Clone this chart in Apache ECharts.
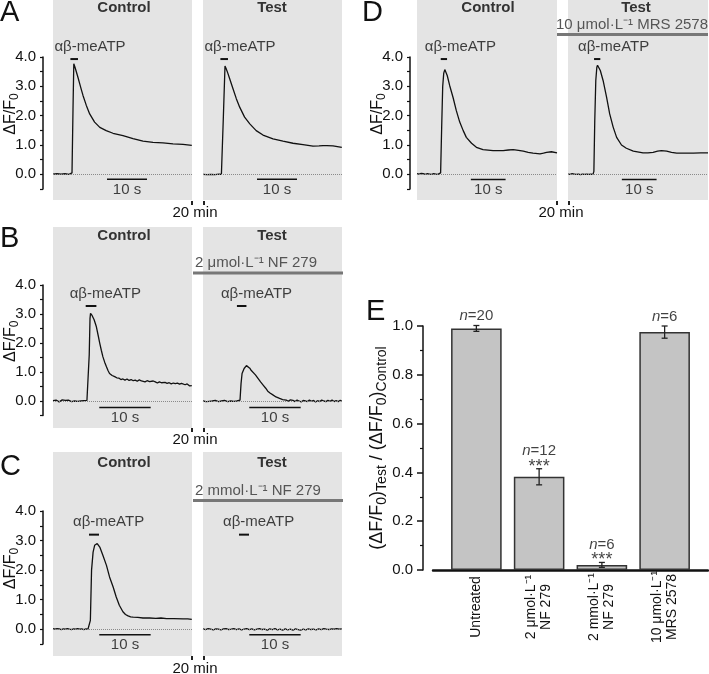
<!DOCTYPE html>
<html>
<head>
<meta charset="utf-8">
<script src="https://cdn.jsdelivr.net/npm/echarts@6/dist/echarts.min.js"></script>
<style>
html, body { margin: 0; padding: 0; background: #fff; }
#chart { width: 709px; height: 674px; }
</style>
</head>
<body>
<div id="chart"></div>
<script>
// ---- traces: [time (s), ΔF/F0] ----
const traceACtrl = [[0,0.01],[0.5,0.0],[1,0.02],[1.5,0.0],[2,0.01],[2.5,-0.01],[3,0.02],[3.5,0.01],[4,0.0],[4.5,0.02],[4.75,0.05],[5.0,2.2],[5.2,3.77],[5.5,3.65],[5.85,3.49],[6.25,3.3],[6.67,3.09],[7.1,2.88],[7.5,2.69],[8.33,2.35],[9.17,2.06],[10.4,1.78],[11.7,1.6],[13.3,1.49],[15,1.4],[17.5,1.32],[20,1.22],[22.5,1.13],[25,1.09],[27.5,1.07],[30,1.04],[32.5,1.02],[34.7,0.99]];
const traceATest = [[0,0.0],[0.5,0.01],[1,-0.01],[1.5,0.01],[2,0.0],[2.5,0.01],[3,-0.01],[3.5,0.0],[4,0.01],[4.6,0.0],[4.8,0.05],[5.1,2.0],[5.5,3.69],[5.8,3.6],[6.2,3.45],[6.67,3.26],[7.5,2.92],[8.33,2.58],[9.17,2.29],[10.4,1.95],[11.7,1.72],[13.3,1.49],[15,1.34],[17.5,1.21],[20,1.13],[22.5,1.06],[25,1.01],[27.5,0.96],[29,0.97],[30,0.98],[31,0.98],[32.5,0.97],[34.7,0.92]];
const traceBCtrl = [[0,0.01],[0.3,-0.02],[0.6,0.03],[0.9,0.0],[1.2,-0.03],[1.5,0.02],[1.8,0.04],[2.1,-0.01],[2.4,0.02],[2.7,-0.02],[3.0,0.03],[3.3,0.01],[3.6,-0.02],[3.9,0.04],[4.2,0.0],[4.5,0.02],[4.8,-0.01],[5.1,0.03],[5.4,0.0],[5.7,0.05],[6.0,0.01],[6.3,0.03],[6.6,0.02],[6.9,0.04],[7.05,1.6],[7.2,2.85],[7.3,3.02],[7.6,2.95],[8.0,2.8],[8.44,2.56],[8.8,2.25],[9.1,1.99],[9.4,1.75],[9.7,1.53],[10.05,1.34],[10.4,1.18],[10.7,1.05],[11.0,0.95],[11.5,0.88],[12.0,0.84],[12.4,0.8],[12.8,0.79],[13.2,0.74],[13.6,0.76],[14.0,0.72],[14.4,0.76],[14.8,0.71],[15.2,0.74],[15.6,0.7],[16.0,0.72],[16.4,0.68],[16.8,0.73],[17.2,0.69],[17.5,0.71],[17.9,0.66],[18.3,0.7],[18.8,0.67],[19.1,0.65],[19.5,0.69],[19.9,0.66],[20.3,0.62],[20.7,0.66],[21.1,0.63],[21.4,0.6],[21.8,0.64],[22.2,0.61],[22.6,0.63],[23.0,0.59],[23.4,0.62],[23.8,0.6],[24.2,0.62],[24.6,0.58],[25.0,0.61],[25.3,0.59],[25.7,0.56],[26.1,0.59],[26.6,0.52],[27.0,0.53]];
const traceBTest = [[0,0.0],[0.3,0.03],[0.6,-0.02],[0.9,0.02],[1.2,-0.01],[1.5,0.03],[1.8,0.0],[2.1,-0.03],[2.4,0.02],[2.7,0.01],[3.0,-0.02],[3.3,0.03],[3.6,0.0],[3.9,-0.02],[4.2,0.02],[4.5,0.01],[4.8,-0.02],[5.1,0.03],[5.4,0.0],[5.7,0.02],[6.0,-0.01],[6.3,0.02],[6.6,0.0],[6.9,0.02],[7.2,0.03],[7.4,0.6],[7.6,0.95],[8.0,1.12],[8.2,1.18],[8.45,1.22],[8.7,1.17],[9.1,1.13],[9.4,1.05],[9.7,1.01],[10.2,0.9],[10.7,0.78],[11.2,0.66],[11.7,0.55],[12.2,0.44],[12.6,0.34],[13.1,0.27],[13.6,0.21],[14.2,0.14],[14.9,0.09],[15.5,0.05],[16.2,0.03],[16.6,-0.01],[17.0,0.04],[17.5,0.02],[17.9,-0.02],[18.3,0.03],[18.7,0.0],[19.1,-0.03],[19.5,0.02],[19.9,0.0],[20.3,-0.02],[20.7,0.03],[21.1,-0.01],[21.5,0.02],[21.9,-0.03],[22.3,0.01],[22.7,-0.02],[23.1,0.03],[23.5,0.0],[23.9,-0.02],[24.3,0.02],[24.7,-0.01],[25.1,0.03],[25.5,-0.02],[25.9,0.01],[26.3,-0.02],[26.7,0.02],[27.0,0.0]];
const traceCCtrl = [[0,0.02],[0.4,0.0],[0.8,0.02],[1.2,0.01],[1.6,-0.01],[2.0,0.01],[2.4,0.0],[2.8,0.02],[3.2,0.0],[3.6,-0.01],[4.0,0.01],[4.4,0.0],[4.8,0.02],[5.2,0.0],[5.6,0.01],[6.0,-0.01],[6.4,0.01],[6.8,0.0],[7.1,0.02],[7.27,0.3],[7.5,2.0],[7.8,2.61],[8.1,2.84],[8.6,2.9],[9.1,2.78],[9.7,2.5],[10.4,2.16],[11.0,1.77],[11.7,1.43],[12.3,1.09],[12.9,0.81],[13.6,0.59],[14.1,0.5],[14.6,0.45],[15.1,0.42],[15.6,0.41],[16.5,0.4],[17.5,0.38],[18.8,0.38],[20.0,0.37],[21.0,0.38],[22.1,0.36],[23.5,0.36],[25.3,0.35],[26.2,0.35],[27.0,0.33]];
const traceCTest = [[0,0.01],[0.5,-0.01],[1,0.02],[1.5,0.0],[2,-0.02],[2.5,0.01],[3,0.0],[3.5,-0.02],[4,0.01],[4.5,0.02],[5,-0.01],[5.5,0.0],[6,0.02],[6.5,-0.01],[7,0.01],[7.5,-0.02],[8,0.0],[8.5,0.02],[9,-0.01],[9.5,0.01],[10,-0.02],[10.5,0.0],[11,0.02],[11.5,-0.01],[12,0.0],[12.5,-0.03],[13,0.01],[13.5,-0.01],[14,0.02],[14.5,-0.02],[15,0.0],[15.5,-0.03],[16,0.01],[16.5,-0.02],[17,0.0],[17.5,-0.03],[18,0.01],[18.5,-0.01],[19,-0.03],[19.5,0.0],[20,-0.02],[20.5,0.01],[21,-0.01],[21.5,0.0],[22,-0.02],[22.5,0.01],[23,-0.01],[23.5,0.02],[24,0.0],[24.5,-0.01],[25,0.01],[25.5,0.0],[26,0.02],[26.5,0.0],[27,0.01]];
const traceDCtrl = [[0,0.02],[0.6,0.01],[1.2,0.03],[1.8,0.02],[2.4,0.0],[3.0,0.02],[3.6,0.01],[4.2,0.0],[4.8,0.02],[5.4,0.01],[6.0,0.0],[6.5,0.02],[6.8,0.05],[7.1,1.6],[7.4,3.0],[7.7,3.45],[8.0,3.57],[8.3,3.52],[8.7,3.37],[9.4,3.03],[10.4,2.61],[11.3,2.18],[12.3,1.78],[13.3,1.49],[14.2,1.26],[15.7,1.06],[17.1,0.92],[19.0,0.84],[21.9,0.81],[24.8,0.81],[26.3,0.83],[27.7,0.84],[29.2,0.82],[30.6,0.79],[32.0,0.75],[33.4,0.72],[35.4,0.7],[36.4,0.72],[37.3,0.75],[38.7,0.77],[40.3,0.73]];
const traceDTest = [[0,0.01],[0.6,0.0],[1.2,0.02],[1.8,0.01],[2.4,0.0],[3.0,0.01],[3.6,-0.01],[4.2,0.01],[4.8,0.0],[5.4,0.01],[6.0,0.0],[6.6,0.01],[7.2,0.0],[7.45,0.1],[7.7,1.8],[8.0,3.2],[8.3,3.65],[8.5,3.72],[8.8,3.68],[9.3,3.54],[10.1,3.2],[11.1,2.63],[12.0,2.06],[13.0,1.61],[14.0,1.26],[15.4,1.0],[16.8,0.89],[18.8,0.79],[21.6,0.73],[23.0,0.73],[24.5,0.75],[25.8,0.79],[26.9,0.81],[28.4,0.79],[29.8,0.75],[31.3,0.72],[33.7,0.72],[36.1,0.72],[38.2,0.73],[40.3,0.73]];

// αβ-meATP application windows (s) and 10 s scale bars (s)
const stimACtrl = [4.35, 6.25], stimATest = [4.35, 6.25];
const stimBCtrl = [6.36, 8.44], stimBTest = [6.6, 8.45];
const stimCCtrl = [7.0, 8.95], stimCTest = [7.0, 8.95];
const stimDCtrl = [6.83, 8.65], stimDTest = [7.5, 9.3];
const scaleA = [13.5, 23.5], scaleB = [9, 19], scaleC = [9, 19], scaleD = [15.5, 25.5];
const yTicks = [0, 1, 2, 3, 4];

// ---- panel E ----
const groups = ['Untreated', '2 μmol·L⁻¹\nNF 279', '2 mmol·L⁻¹\nNF 279', '10 μmol·L⁻¹\nMRS 2578'];
const ratioMean = [0.99, 0.382, 0.021, 0.975];
const ratioSem = [0.012, 0.033, 0.01, 0.025];
const nCells = [20, 12, 6, 6];
const signif = ['', '***', '***', ''];

const FONT = 'Liberation Sans, Arial, sans-serif';
const INK = '#111';

const panels = [
  { x: [53, 203], w: 139, bgTop: 0, bgH: 200, top: 57, h: 132, xMax: 34.75, off: 10,
    traces: [traceACtrl, traceATest], stim: [stimACtrl, stimATest], stimY: 3.93, scale: scaleA, scaleY: -0.17 },
  { x: [53, 203], w: 139, bgTop: 227, bgH: 201, top: 285, h: 130.5, xMax: 27.04, off: 10,
    traces: [traceBCtrl, traceBTest], stim: [stimBCtrl, stimBTest], stimY: 3.28, scale: scaleB, scaleY: -0.22 },
  { x: [53, 203], w: 139, bgTop: 452, bgH: 204, top: 511, h: 133, xMax: 27.04, off: 10,
    traces: [traceCCtrl, traceCTest], stim: [stimCCtrl, stimCTest], stimY: 3.2, scale: scaleC, scaleY: -0.19 },
  { x: [417, 568], w: 140, bgTop: 0, bgH: 200, top: 57, h: 132, xMax: 40.3, off: 7,
    traces: [traceDCtrl, traceDTest], stim: [stimDCtrl, stimDTest], stimY: 3.93, scale: scaleD, scaleY: -0.18 }
];

const grids = [], xAxes = [], yAxes = [], series = [];
function addGrid(g, xa, ya) {
  const gi = grids.length;
  grids.push(Object.assign({ containLabel: false, outerBoundsMode: 'none' }, g));
  xAxes.push(Object.assign({ gridIndex: gi }, xa));
  yAxes.push(Object.assign({ gridIndex: gi }, ya));
  return gi;
}
const hidden = (min, max) => ({ type: 'value', show: false, min, max });
const subRich = size => ({ s: { fontSize: size, verticalAlign: 'bottom', fontFamily: FONT, color: INK } });

panels.forEach(p => {
  [0, 1].forEach(side => {
    const left = p.x[side];
    // grey background
    addGrid({ left, top: p.bgTop, width: p.w, height: p.bgH, show: true, backgroundColor: '#e4e4e4', borderWidth: 0 },
      hidden(0, 1), hidden(0, 1));
    // data area
    const yAxis = side === 0 ? {
      type: 'value', min: -0.5, max: 4, interval: 0.5, offset: p.off,
      axisLine: { show: true, onZero: false, lineStyle: { color: INK, width: 1.5 } },
      axisTick: { show: true, length: 3, lineStyle: { color: INK, width: 1.2 } },
      axisLabel: { fontSize: 15, color: INK, margin: 7, fontFamily: FONT,
        formatter: v => (yTicks.includes(v) ? v.toFixed(1) : '') },
      splitLine: { show: false },
      name: 'ΔF/F{s|0}', nameLocation: 'middle', nameGap: 22, nameMoveOverlap: false,
      nameTextStyle: { fontSize: 16, color: INK, lineHeight: 20, fontFamily: FONT, padding: [0, 0, 0, 18], rich: subRich(12) }
    } : hidden(-0.5, 4);
    const gi = addGrid({ left, top: p.top, width: p.w, height: p.h }, hidden(0, p.xMax), yAxis);
    const st = p.stim[side];
    series.push({
      type: 'line', xAxisIndex: gi, yAxisIndex: gi, data: p.traces[side], symbol: 'none',
      lineStyle: { color: INK, width: 1.3 }, z: 4, clip: false,
      markLine: { silent: true, symbol: 'none', label: { show: false }, animation: false,
        lineStyle: { color: '#8a8a8a', type: 'dotted', width: 1 }, data: [{ yAxis: 0 }] }
    });
    series.push({ type: 'line', xAxisIndex: gi, yAxisIndex: gi, symbol: 'none', clip: false,
      data: [[st[0], p.stimY], [st[1], p.stimY]], lineStyle: { color: INK, width: 2 } });
    series.push({ type: 'line', xAxisIndex: gi, yAxisIndex: gi, symbol: 'none', clip: false,
      data: [[p.scale[0], p.scaleY], [p.scale[1], p.scaleY]], lineStyle: { color: INK, width: 1.5 } });
    series.push({ type: 'scatter', xAxisIndex: gi, yAxisIndex: gi, symbolSize: 0, clip: false, silent: true,
      data: [
        { value: [st[0], p.stimY], label: { show: true, position: 'top', distance: 5, align: 'left', offset: [-16, 0],
            formatter: 'αβ-meATP', fontSize: 15, color: INK, fontFamily: FONT } },
        { value: [(p.scale[0] + p.scale[1]) / 2, p.scaleY], label: { show: true, position: 'bottom', distance: 3,
            formatter: '10 s', fontSize: 15, color: INK, fontFamily: FONT } }
      ] });
  });
});

// panel E: thick baseline spanning past the bars
addGrid({ left: 433, top: 326, width: 275, height: 244 },
  { type: 'value', min: 0, max: 1, axisLine: { show: true, lineStyle: { color: INK, width: 2.5 } },
    axisTick: { show: false }, axisLabel: { show: false }, splitLine: { show: false } },
  hidden(0, 1));
const eg = addGrid({ left: 445, top: 326, width: 251, height: 244 },
  { type: 'category', data: groups, axisLine: { show: false }, axisTick: { show: false },
    axisLabel: { interval: 0, rotate: 90, align: 'center', verticalAlign: 'middle', margin: 37,
      fontSize: 14, lineHeight: 15, color: INK, fontFamily: FONT } },
  { type: 'value', min: 0, max: 1, interval: 0.2, offset: 22,
    axisLine: { show: true, onZero: false, lineStyle: { color: INK, width: 1.5 } },
    axisTick: { show: true, length: 6, lineStyle: { color: INK, width: 1.5 } },
    minorTick: { show: true, splitNumber: 2, length: 3, lineStyle: { color: INK, width: 1.2 } },
    splitLine: { show: false },
    axisLabel: { fontSize: 15, color: INK, margin: 10, fontFamily: FONT, formatter: v => v.toFixed(1) },
    name: '(ΔF/F{s|0}){s|Test} / (ΔF/F{s|0}){s|Control}', nameLocation: 'middle', nameGap: 34, nameMoveOverlap: false,
    nameTextStyle: { fontSize: 18, color: INK, lineHeight: 24, fontFamily: FONT, rich: subRich(14) } });

series.push({ type: 'bar', xAxisIndex: eg, yAxisIndex: eg, data: ratioMean, barWidth: 50.6,
  itemStyle: { color: '#c4c4c4', borderColor: '#333', borderWidth: 1.5 } });
series.push({ type: 'custom', xAxisIndex: eg, yAxisIndex: eg, z: 5,
  data: ratioMean.map((m, i) => [i, m - ratioSem[i], m + ratioSem[i]]),
  renderItem: (params, api) => {
    const lo = api.coord([api.value(0), api.value(1)]);
    const hi = api.coord([api.value(0), api.value(2)]);
    const st = { stroke: '#222', lineWidth: 1.3 };
    return { type: 'group', children: [
      { type: 'line', shape: { x1: lo[0], y1: lo[1], x2: hi[0], y2: hi[1] }, style: st },
      { type: 'line', shape: { x1: lo[0] - 3, y1: lo[1], x2: lo[0] + 3, y2: lo[1] }, style: st },
      { type: 'line', shape: { x1: hi[0] - 3, y1: hi[1], x2: hi[0] + 3, y2: hi[1] }, style: st }
    ] };
  } });
const nRich = {
  i: { fontStyle: 'italic', fontSize: 15, color: INK, fontFamily: FONT, lineHeight: 15 },
  r: { fontSize: 15, color: INK, fontFamily: FONT, lineHeight: 15 },
  s: { fontSize: 18, color: INK, fontFamily: FONT, lineHeight: 16 }
};
series.push({ type: 'scatter', xAxisIndex: eg, yAxisIndex: eg, symbolSize: 0, clip: false, silent: true,
  data: ratioMean.map((m, i) => ({
    value: [i, m + ratioSem[i]],
    label: { show: true, position: 'top', distance: signif[i] ? -6 : 2, fontFamily: FONT, rich: nRich,
      formatter: '{i|n}{r|=' + nCells[i] + '}' + (signif[i] ? '\n{s|' + signif[i] + '}' : '') }
  })) });

// ---- static annotations ----
const txt = (text, x, y, o = {}) => ({ type: 'text', x, y, silent: true,
  style: Object.assign({ text, fill: INK, font: `${o.weight || 'normal'} ${o.size || 15}px ${FONT}`,
    align: o.align || 'center', verticalAlign: 'middle', textAlign: o.align || 'center', textVerticalAlign: 'middle' }, o.style || {}) });
const rect = (x, y, w, h, fill) => ({ type: 'rect', silent: true, shape: { x, y, width: w, height: h }, style: { fill } });

const graphics = [
  txt('A', 0, 13, { size: 29, align: 'left' }), txt('B', 0, 239, { size: 29, align: 'left' }),
  txt('C', 0, 467, { size: 29, align: 'left' }), txt('D', 362, 13, { size: 29, align: 'left' }),
  txt('E', 366, 312, { size: 29, align: 'left' })
];
[[124, 272, 8], [124, 272, 236], [124, 272, 463], [488, 636, 8]].forEach(([c, t, y]) => {
  graphics.push(txt('Control', c, y, { weight: 'bold', style: { fill: '#333' } }));
  graphics.push(txt('Test', t, y, { weight: 'bold', style: { fill: '#333' } }));
});
// drug application bars
graphics.push(rect(193, 271.5, 150, 3, '#777'), txt('2 μmol·L⁻¹ NF 279', 195, 263, { align: 'left', style: { fill: '#555' } }));
graphics.push(rect(193, 499, 150, 3, '#777'), txt('2 mmol·L⁻¹ NF 279', 195, 491, { align: 'left', style: { fill: '#555' } }));
graphics.push(rect(557, 33, 151, 3, '#777'), txt('10 μmol·L⁻¹ MRS 2578', 632, 25, { style: { fill: '#555' } }));
// 20 min breaks
[[191, 203, 201, 195, 213], [191, 203, 428, 195, 440], [191, 203, 656, 195, 669], [556, 568, 201, 561, 213]]
  .forEach(([a, b, y, cx, ty]) => {
    graphics.push(rect(a, y, 2, 4, '#222'), rect(b, y, 2, 4, '#222'), txt('20 min', cx, ty));
  });

const chart = echarts.init(document.getElementById('chart'), null, { renderer: 'canvas' });
chart.setOption({
  animation: false,
  textStyle: { fontFamily: FONT },
  grid: grids, xAxis: xAxes, yAxis: yAxes, series,
  graphic: { elements: graphics }
});
</script>
</body>
</html>
